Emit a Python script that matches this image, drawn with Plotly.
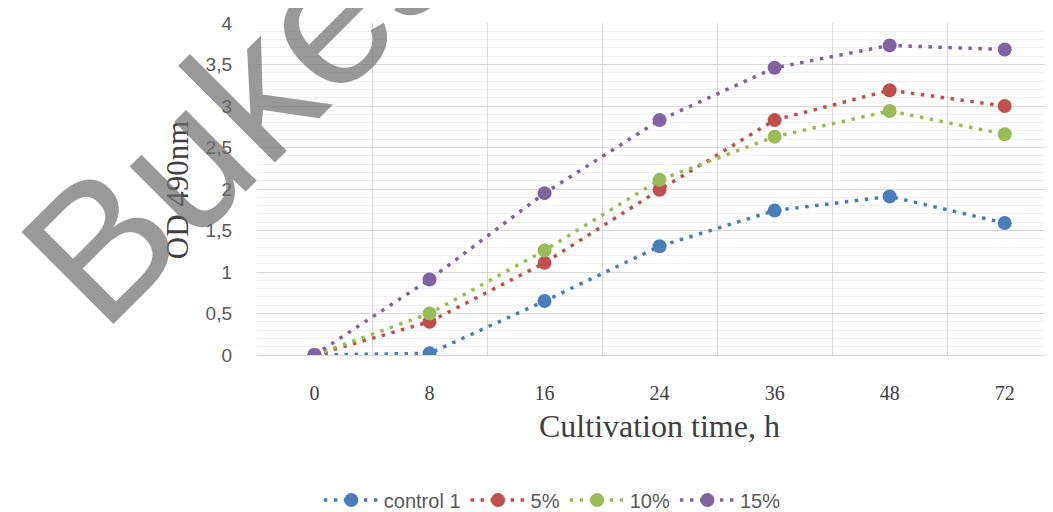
import plotly.graph_objects as go

hours = ["0", "8", "16", "24", "36", "48", "72"]
control_1 = [0.0, 0.02, 0.65, 1.31, 1.74, 1.91, 1.59]
pct_5 = [0.0, 0.40, 1.11, 1.99, 2.83, 3.19, 3.00]
pct_10 = [0.0, 0.50, 1.26, 2.11, 2.63, 2.94, 2.66]
pct_15 = [0.0, 0.91, 1.95, 2.83, 3.46, 3.73, 3.68]
series_names = ["control 1", "5%", "10%", "15%"]
series_colors = ["#4A7EBB", "#C0504D", "#9BBB59", "#8064A2"]
y_ticks = [0, 0.5, 1, 1.5, 2, 2.5, 3, 3.5, 4]
y_tick_text = ["0", "0,5", "1", "1,5", "2", "2,5", "3", "3,5", "4"]

fig = go.Figure()
for name, vals, col in zip(series_names, [control_1, pct_5, pct_10, pct_15], series_colors):
    fig.add_trace(go.Scatter(
        x=hours, y=vals, name=name, mode="lines+markers",
        line=dict(color=col, width=3.5, dash="3.5px,6.5px"),
        marker=dict(color=col, size=14, symbol="circle"),
    ))

fig.update_layout(
    width=1045, height=512,
    margin=dict(l=249, r=0, t=15, b=165),
    paper_bgcolor="white", plot_bgcolor="white",
    showlegend=True,
    legend=dict(orientation="h", x=0.371, xanchor="center", y=-0.437, yanchor="middle",
                font=dict(family="Liberation Sans", size=20, color="#595959"),
                itemwidth=55, traceorder="normal"),
    xaxis=dict(type="category", range=[-0.5, 6.42], tickson="boundaries",
               showgrid=True, gridcolor="#d9d9d9", gridwidth=1.3,
               showline=True, linecolor="#d9d9d9", linewidth=1.3,
               ticks="", ticklabelstandoff=20, zeroline=False, automargin=False,
               tickfont=dict(family="Liberation Serif", size=20, color="#404040")),
    yaxis=dict(range=[0, 4], tickvals=y_ticks, ticktext=y_tick_text,
               showgrid=True, gridcolor="#d9d9d9", gridwidth=1.3, automargin=False,
               zeroline=False, showline=False, ticks="", ticklabelstandoff=24,
               minor=dict(dtick=0.1, showgrid=True, gridcolor="#f0f0f0", gridwidth=1),
               tickfont=dict(family="Liberation Sans", size=19, color="#595959")),
    annotations=[
        dict(text="Cultivation time, h", xref="paper", yref="paper", x=0.506, y=-0.215,
             xanchor="center", yanchor="middle", showarrow=False,
             font=dict(family="Liberation Serif", size=32, color="#404040")),
        dict(text="OD 490nm", xref="paper", yref="paper", x=-0.099, y=0.497,
             xanchor="center", yanchor="middle", showarrow=False, textangle=-90,
             font=dict(family="Liberation Serif", size=31, color="#404040")),
        dict(text="Bukes", xref="paper", yref="paper", x=-0.020, y=0.759,
             xanchor="center", yanchor="middle", showarrow=False, textangle=-45,
             font=dict(family="Liberation Sans", size=189, color="rgba(110,110,110,0.7)")),
    ],
)

fig.write_html("out.html")
